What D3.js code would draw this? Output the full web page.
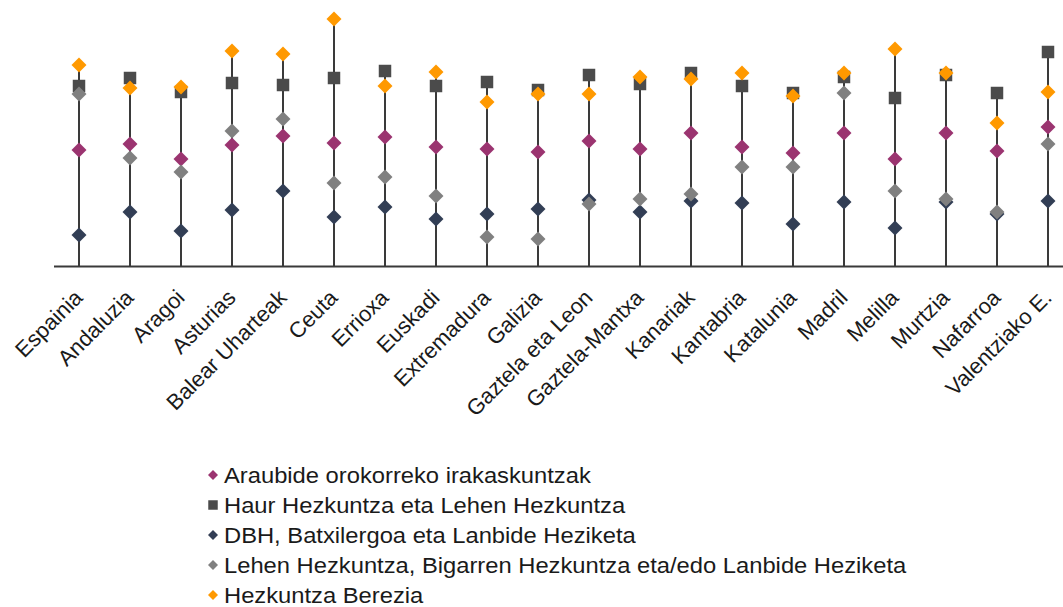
<!DOCTYPE html>
<html>
<head>
<meta charset="utf-8">
<script src="https://cdn.jsdelivr.net/npm/d3@7/dist/d3.min.js"></script>
<style>
  html, body { margin: 0; padding: 0; background: #fff; }
  svg { display: block; }
  text { font-family: "Liberation Sans", Arial, sans-serif; fill: #1a1a1a; }
</style>
</head>
<body>
<svg id="chart" width="1063" height="607"></svg>
<script>
const categories = ["Espainia","Andaluzia","Aragoi","Asturias","Balear Uharteak","Ceuta","Errioxa","Euskadi","Extremadura","Galizia","Gaztela eta Leon","Gaztela-Mantxa","Kanariak","Kantabria","Katalunia","Madril","Melilla","Murtzia","Nafarroa","Valentziako E."];

const seriesNames = [
  "Araubide orokorreko irakaskuntzak",
  "Haur Hezkuntza eta Lehen Hezkuntza",
  "DBH, Batxilergoa eta Lanbide Heziketa",
  "Lehen Hezkuntza, Bigarren Hezkuntza eta/edo Lanbide Heziketa",
  "Hezkuntza Berezia"
];

const araubide  = [11.6,12.2,10.7,12.1,13.0,12.3,12.9,11.9,11.7,11.4,12.5,11.7,13.3,11.9,11.3,13.3,10.7,13.3,11.5,13.9];
const haurLehen = [18.0,18.8,17.4,18.3,18.1,18.8,19.5,18.0,18.4,17.6,19.1,18.2,19.3,18.0,17.3,18.9,16.8,19.1,17.3,21.4];
const dbh       = [3.1,5.4,3.5,5.6,7.5,4.9,5.9,4.7,5.2,5.7,6.6,5.4,6.5,6.3,4.2,6.4,3.8,6.4,5.2,6.5];
const lehenBig  = [17.2,10.8,9.4,13.5,14.7,8.3,8.9,7.0,2.9,2.7,6.2,6.7,7.2,9.9,9.9,17.3,7.5,6.7,5.4,12.2];
const berezia   = [20.1,17.8,17.9,21.5,21.2,24.7,18.0,19.4,16.4,17.2,17.2,18.9,18.7,19.3,17.0,19.3,21.7,19.3,14.3,17.4];

const seriesValues = [araubide, haurLehen, dbh, lehenBig, berezia];
const seriesColors = ["#9b3470", "#4b4b4b", "#323e55", "#808080", "#ff9900"];
const seriesShapes = ["diamond", "square", "diamond", "diamond", "diamond"];

const svg = d3.select("#chart");

const x = d3.scaleBand().domain(categories).range([53.5, 1073.5]).paddingInner(0).paddingOuter(0);
const y = d3.scaleLinear().domain([0, 25]).range([266, 16]);

const maxVals = categories.map((c, i) => d3.max(seriesValues, s => s[i]));

// stems
svg.append("g").selectAll("line").data(categories).join("line")
  .attr("x1", d => x(d) + x.bandwidth() / 2)
  .attr("x2", d => x(d) + x.bandwidth() / 2)
  .attr("y1", y(0))
  .attr("y2", (d, i) => y(maxVals[i]))
  .attr("stroke", "#3a3a3a")
  .attr("stroke-width", 2);

// axis
const xAxis = d3.axisBottom(x).tickSize(0).tickPadding(0);
const ax = svg.append("g").attr("transform", `translate(0,${y(0)})`).call(xAxis);
ax.select(".domain").attr("stroke", "#3a3a3a").attr("stroke-width", 2);
ax.selectAll(".tick text")
  .attr("font-size", 22)
  .attr("text-anchor", "end")
  .attr("dy", null)
  .attr("y", null)
  .attr("transform", "translate(5,33) rotate(-45)");

// markers
const diamond = d3.symbol().type(d3.symbolSquare).size(112);
const square = d3.symbol().type(d3.symbolSquare).size(156);

seriesValues.forEach((vals, si) => {
  svg.append("g").selectAll("path").data(vals).join("path")
    .attr("d", seriesShapes[si] === "square" ? square() : diamond())
    .attr("fill", seriesColors[si])
    .attr("transform", (v, i) => {
      const cx = x(categories[i]) + x.bandwidth() / 2;
      const cy = y(v);
      return seriesShapes[si] === "square" ? `translate(${cx},${cy})` : `translate(${cx},${cy}) rotate(45)`;
    });
});

// legend
const legend = svg.append("g");
const legY = d3.scalePoint().domain(seriesNames).range([475, 595]);
const legDiamond = d3.symbol().type(d3.symbolSquare).size(50);
const legSquare = d3.symbol().type(d3.symbolSquare).size(90);
seriesNames.forEach((name, si) => {
  const cy = legY(name);
  legend.append("path")
    .attr("d", seriesShapes[si] === "square" ? legSquare() : legDiamond())
    .attr("fill", seriesColors[si])
    .attr("transform", seriesShapes[si] === "square" ? `translate(213,${cy})` : `translate(213,${cy}) rotate(45)`);
  legend.append("text")
    .attr("transform", `translate(224,${cy + 7.5}) scale(1.08,1)`)
    .attr("font-size", 22)
    .text(name);
});
</script>
</body>
</html>
